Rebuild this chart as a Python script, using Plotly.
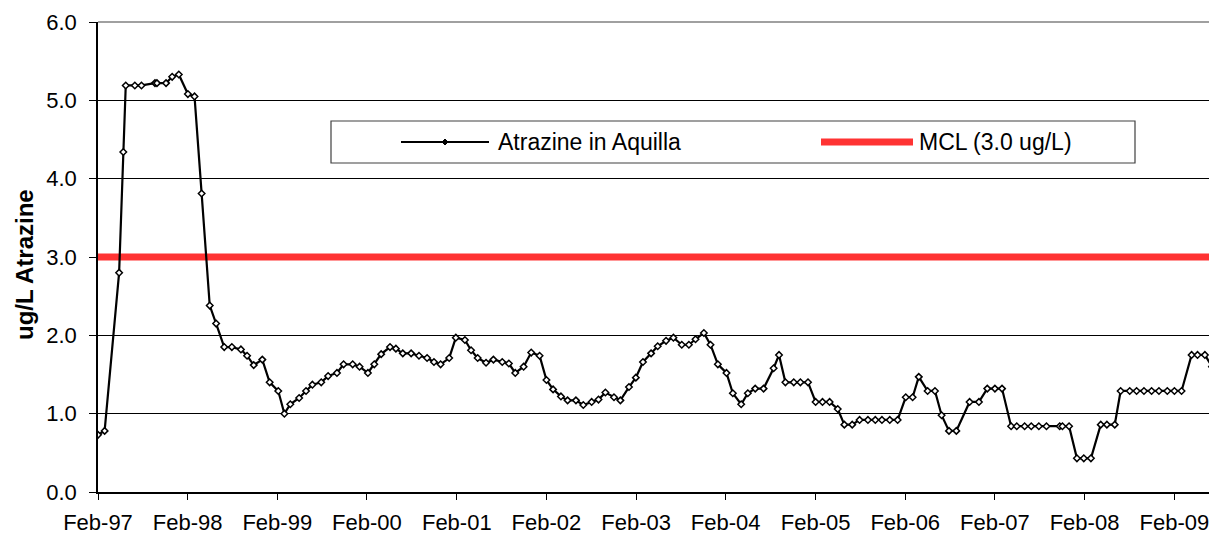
import plotly.graph_objects as go

# ---------------- data ----------------
sample_dates = [
    "1997-02-01", "1997-02-28", "1997-04-28", "1997-05-15", "1997-05-25", "1997-07-01", "1997-07-28",
    "1997-09-21", "1997-09-29", "1997-11-05", "1997-11-30", "1997-12-27",
    "1998-02-02", "1998-03-01", "1998-03-30", "1998-05-02", "1998-05-28", "1998-06-30", "1998-07-31",
    "1998-09-06", "1998-10-01", "1998-10-28", "1998-12-02",
    "1999-01-01", "1999-02-05", "1999-03-02", "1999-03-26", "1999-05-01", "1999-05-29", "1999-06-24",
    "1999-07-30", "1999-08-27", "1999-10-02", "1999-10-29", "1999-12-05",
    "2000-01-02", "2000-02-05", "2000-03-02", "2000-03-30", "2000-05-05", "2000-05-29", "2000-06-26",
    "2000-07-30", "2000-08-31", "2000-10-03", "2000-10-31", "2000-11-27",
    "2001-01-01", "2001-01-28", "2001-03-06", "2001-03-31", "2001-04-27", "2001-05-31", "2001-06-30",
    "2001-08-05", "2001-09-01", "2001-09-27", "2001-10-31", "2001-12-01",
    "2002-01-04", "2002-02-01", "2002-02-28", "2002-04-01", "2002-04-28", "2002-06-01", "2002-07-01",
    "2002-08-04", "2002-09-01", "2002-09-29", "2002-11-03", "2002-11-29",
    "2003-01-03", "2003-01-31", "2003-03-01", "2003-04-03", "2003-04-30", "2003-06-03", "2003-07-03",
    "2003-08-06", "2003-09-04", "2003-10-01", "2003-11-04", "2003-12-01", "2003-12-31",
    "2004-02-04", "2004-03-01", "2004-04-04", "2004-05-01", "2004-05-31", "2004-07-04", "2004-08-14",
    "2004-09-05", "2004-10-01", "2004-11-04", "2004-12-01",
    "2005-01-01", "2005-02-01", "2005-03-01", "2005-03-30", "2005-05-02", "2005-05-29", "2005-06-30",
    "2005-07-30", "2005-09-02", "2005-10-02", "2005-10-29", "2005-11-30",
    "2006-01-01", "2006-02-03", "2006-03-03", "2006-03-28", "2006-05-03", "2006-06-02", "2006-06-29",
    "2006-07-29", "2006-08-28", "2006-10-21", "2006-11-28",
    "2007-01-01", "2007-02-01", "2007-03-02", "2007-04-08", "2007-05-01", "2007-06-02", "2007-06-29",
    "2007-07-30", "2007-08-30", "2007-10-23", "2007-11-03", "2007-11-30",
    "2008-01-01", "2008-01-29", "2008-02-27", "2008-04-07", "2008-05-02", "2008-06-03", "2008-06-27",
    "2008-08-03", "2008-08-31", "2008-09-30", "2008-10-31", "2008-11-30",
    "2009-01-03", "2009-02-01", "2009-03-02", "2009-04-12", "2009-05-06", "2009-06-05", "2009-07-04",
]

atrazine_values = [
    0.73, 0.78, 2.80, 4.34, 5.19, 5.19, 5.19, 5.22, 5.22, 5.22, 5.30, 5.33,
    5.08, 5.05, 3.81, 2.38, 2.15, 1.85, 1.85, 1.82, 1.74, 1.62, 1.69,
    1.40, 1.29, 1.00, 1.12, 1.20, 1.29, 1.37, 1.40, 1.48, 1.52, 1.63, 1.63,
    1.60, 1.52, 1.63, 1.76, 1.85, 1.83, 1.77, 1.77, 1.74, 1.71, 1.66, 1.63,
    1.71, 1.97, 1.94, 1.81, 1.71, 1.65, 1.69, 1.66, 1.64, 1.52, 1.60, 1.78,
    1.74, 1.43, 1.31, 1.22, 1.17, 1.17, 1.11, 1.15, 1.18, 1.27, 1.21, 1.17,
    1.34, 1.46, 1.66, 1.77, 1.86, 1.93, 1.97, 1.88, 1.88, 1.95, 2.03, 1.88, 1.63,
    1.52, 1.26, 1.12, 1.26, 1.32, 1.32, 1.58, 1.75, 1.40, 1.40, 1.40,
    1.40, 1.15, 1.15, 1.15, 1.06, 0.86, 0.86, 0.92, 0.92, 0.92, 0.92, 0.92,
    0.92, 1.21, 1.21, 1.47, 1.29, 1.29, 0.98, 0.78, 0.78, 1.15, 1.15,
    1.32, 1.32, 1.32, 0.84, 0.84, 0.84, 0.84, 0.84, 0.84, 0.84, 0.84, 0.84,
    0.43, 0.43, 0.43, 0.86, 0.86, 0.86, 1.29, 1.29, 1.29, 1.29, 1.29, 1.29,
    1.29, 1.29, 1.29, 1.75, 1.75, 1.75, 1.60,
]

mcl_dates = ["1997-02-01", "2009-07-04"]
mcl_values = [3.0, 3.0]

x_tick_dates = ["1997-02-01", "1998-02-01", "1999-02-01", "2000-02-01", "2001-02-01",
                "2002-02-01", "2003-02-01", "2004-02-01", "2005-02-01", "2006-02-01",
                "2007-02-01", "2008-02-01", "2009-02-01"]
x_tick_labels = ["Feb-97", "Feb-98", "Feb-99", "Feb-00", "Feb-01", "Feb-02", "Feb-03",
                 "Feb-04", "Feb-05", "Feb-06", "Feb-07", "Feb-08", "Feb-09"]
y_tick_values = [0, 1, 2, 3, 4, 5, 6]

series_name = "Atrazine in Aquilla"
mcl_name = "MCL (3.0 ug/L)"
y_title = "ug/L Atrazine"

# ---------------- figure ----------------
FONT = "Liberation Sans, Arial, sans-serif"
RED = "#FF3333"

# the page body has an 8px margin, so the figure is sized to fit the window
OFF = 8
W, H = 1217 - OFF, 537 - OFF
L, R, T, B = 90, 5, 14, 45
pw, ph = W - L - R, H - T - B


def px(x_page):
    return (x_page - OFF - L) / pw


def py(y_page):
    return (OFF + H - B - y_page) / ph


fig = go.Figure()

fig.add_trace(go.Scatter(
    x=mcl_dates, y=mcl_values, mode="lines", name=mcl_name,
    line=dict(color=RED, width=7), showlegend=False, hoverinfo="skip",
))

fig.add_trace(go.Scatter(
    x=sample_dates, y=atrazine_values, mode="lines+markers", name=series_name,
    line=dict(color="black", width=2.2),
    marker=dict(symbol="diamond", size=5, color="white", line=dict(color="black", width=1.5)),
    showlegend=False,
))

shapes = [
    # plot-area border (top & right, gray)
    dict(type="line", xref="paper", yref="paper", x0=0, x1=1, y0=1, y1=1,
         line=dict(color="#808080", width=1.5), layer="above"),
    dict(type="line", xref="paper", yref="paper", x0=1, x1=1, y0=0, y1=1,
         line=dict(color="#808080", width=1.5), layer="above"),
    # legend box
    dict(type="rect", xref="paper", yref="paper",
         x0=px(331), x1=px(1135), y0=py(163), y1=py(121),
         line=dict(color="#404040", width=1.2), fillcolor="white", layer="above"),
    dict(type="line", xref="paper", yref="paper",
         x0=px(401), x1=px(489), y0=py(142), y1=py(142),
         line=dict(color="black", width=2), layer="above"),
    dict(type="path", xref="paper", yref="paper",
         xsizemode="pixel", ysizemode="pixel", xanchor=px(445), yanchor=py(142),
         path="M -3 0 L 0 3 L 3 0 L 0 -3 Z",
         fillcolor="black", line=dict(color="black", width=1), layer="above"),
    dict(type="line", xref="paper", yref="paper",
         x0=px(821), x1=px(913), y0=py(142), y1=py(142),
         line=dict(color=RED, width=7), layer="above"),
]

annotations = [
    dict(xref="paper", yref="paper", x=px(496), y=py(142), text=series_name,
         showarrow=False, xanchor="left", yanchor="middle",
         font=dict(family=FONT, size=23, color="black")),
    dict(xref="paper", yref="paper", x=px(917), y=py(142), text=mcl_name,
         showarrow=False, xanchor="left", yanchor="middle",
         font=dict(family=FONT, size=23, color="black")),
    dict(xref="paper", yref="paper", x=px(24), y=py(265), text="<b>" + y_title + "</b>",
         showarrow=False, xanchor="center", yanchor="middle", textangle=-90,
         font=dict(family=FONT, size=24, color="black")),
]

fig.update_layout(
    width=W, height=H,
    margin=dict(l=L, r=R, t=T, b=B, autoexpand=False),
    paper_bgcolor="white", plot_bgcolor="white",
    font=dict(family=FONT, size=22, color="black"),
    shapes=shapes, annotations=annotations,
    showlegend=False,
)

fig.update_xaxes(
    type="date", range=[mcl_dates[0], mcl_dates[-1]],
    tickvals=x_tick_dates, ticktext=x_tick_labels,
    ticks="outside", ticklen=6, tickwidth=1, tickcolor="black",
    showline=True, linecolor="black", linewidth=1.5,
    showgrid=False, zeroline=False,
    tickfont=dict(family=FONT, size=22, color="black"),
    ticklabelstandoff=4,
)

fig.update_yaxes(
    range=[0, 6], tickvals=y_tick_values, tickformat=".1f",
    ticks="outside", ticklen=7, tickwidth=1, tickcolor="black",
    showline=True, linecolor="black", linewidth=1.5,
    showgrid=True, gridcolor="black", gridwidth=1, zeroline=False,
    tickfont=dict(family=FONT, size=22, color="black"),
    ticklabelstandoff=8,
)

fig.write_html("out.html")
